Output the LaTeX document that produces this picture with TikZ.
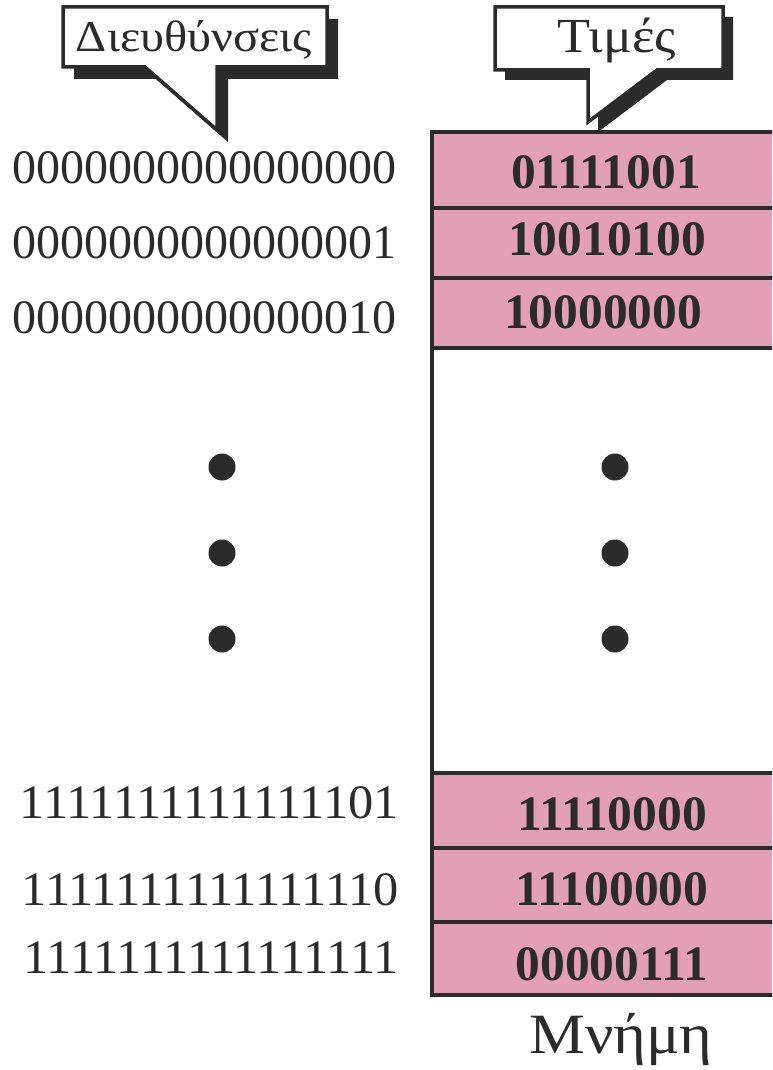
\documentclass[tikz,border=0pt]{standalone}
\usepackage{fontspec}
\setmainfont{Liberation Serif}
\newfontfamily\greeklabel[FakeStretch=1.1]{Liberation Serif}
\usetikzlibrary{positioning, calc}
\definecolor{cellpink}{HTML}{E39FB5}
\definecolor{inkgray}{HTML}{2B2B2B}
\newcommand{\wideones}[1]{\scalebox{1.05}[1]{#1}}
\tikzset{
  cell/.style={fill=cellpink, draw=inkgray, line width=3.5pt},
  addr/.style={anchor=base east, inner sep=0pt, text=inkgray, font=\fontsize{48}{50}\selectfont},
  val/.style={anchor=base, inner sep=0pt, text=inkgray, font=\fontsize{49.5}{52}\selectfont\bfseries},
  bubble/.style={fill=white, draw=inkgray, line width=3.5pt},
  bubbleshadow/.style={fill=inkgray},
  bigdot/.style={circle, fill=inkgray, minimum size=27pt, inner sep=0pt},
  caption/.style={anchor=base, inner sep=0pt, text=inkgray}
}

\begin{document}
\begin{tikzpicture}[x=1pt, y=-1pt, line join=miter]
      \useasboundingbox (0,0) rectangle (772,1070);
      \clip (0,0) rectangle (772,1070);
      % memory column
      \draw[line width=3.5pt, draw=inkgray, fill=white] (432,132) rectangle (785,995);
      \foreach \ya/\yb in {132/208, 208/278, 278/348, 773/848, 848/922, 922/995}
        \draw[cell] (432,\ya) rectangle (785,\yb);
      \node[val] (v1) at (606,188) {01111001};
      \node[val] (v2) at (607,255) {10010100};
      \node[val] (v3) at (603,328) {10000000};
      \node[val] (v4) at (612,830) {11110000};
      \node[val] (v5) at (612,905) {11100000};
      \node[val] (v6) at (612,980) {00000111};
      % addresses
      \node[addr] (a1) at (397,183) {0000000000000000};
      \node[addr] (a2) at (397,258) {0000000000000001};
      \node[addr] (a3) at (397,333) {0000000000000010};
      \node[addr] (a4) at (399,818) {\wideones{1111111111111101}};
      \node[addr] (a5) at (399,905) {\wideones{1111111111111110}};
      \node[addr] (a6) at (399,973) {\wideones{1111111111111111}};
      % dots
      \foreach \y [count=\i] in {467,553,639} {
        \node[bigdot] (ld\i) at (222,\y) {};
        \node[bigdot] (rd\i) at (615,\y) {};
      }
      % callout: addresses
      \fill[bubbleshadow, shift={(11,12)}] (63,7) -- (327,7) -- (327,67) -- (217,67)
        -- (217,130) -- (145,67) -- (63,67) -- cycle;
      \draw[bubble] (63,7) -- (327,7) -- (327,67) -- (217,67)
        -- (217,130) -- (145,67) -- (63,67) -- cycle;
      \node[caption, font=\greeklabel\fontsize{44}{46}\selectfont] (lblAddr) at (194,52) {Διευθύνσεις};
      % callout: values
      \fill[bubbleshadow, shift={(10,10)}] (495,7) -- (723,7) -- (723,70) -- (657,70)
        -- (588,122) -- (588,70) -- (495,70) -- cycle;
      \draw[bubble] (495,7) -- (723,7) -- (723,70) -- (657,70)
        -- (588,122) -- (588,70) -- (495,70) -- cycle;
      \node[caption, font=\greeklabel\fontsize{49}{51}\selectfont] (lblVal) at (617,53) {Τιμές};
      % caption below
      \node[caption, font=\greeklabel\fontsize{57}{59}\selectfont] (lblMem) at (621,1053) {Μνήμη};
    \end{tikzpicture}
\end{document}
